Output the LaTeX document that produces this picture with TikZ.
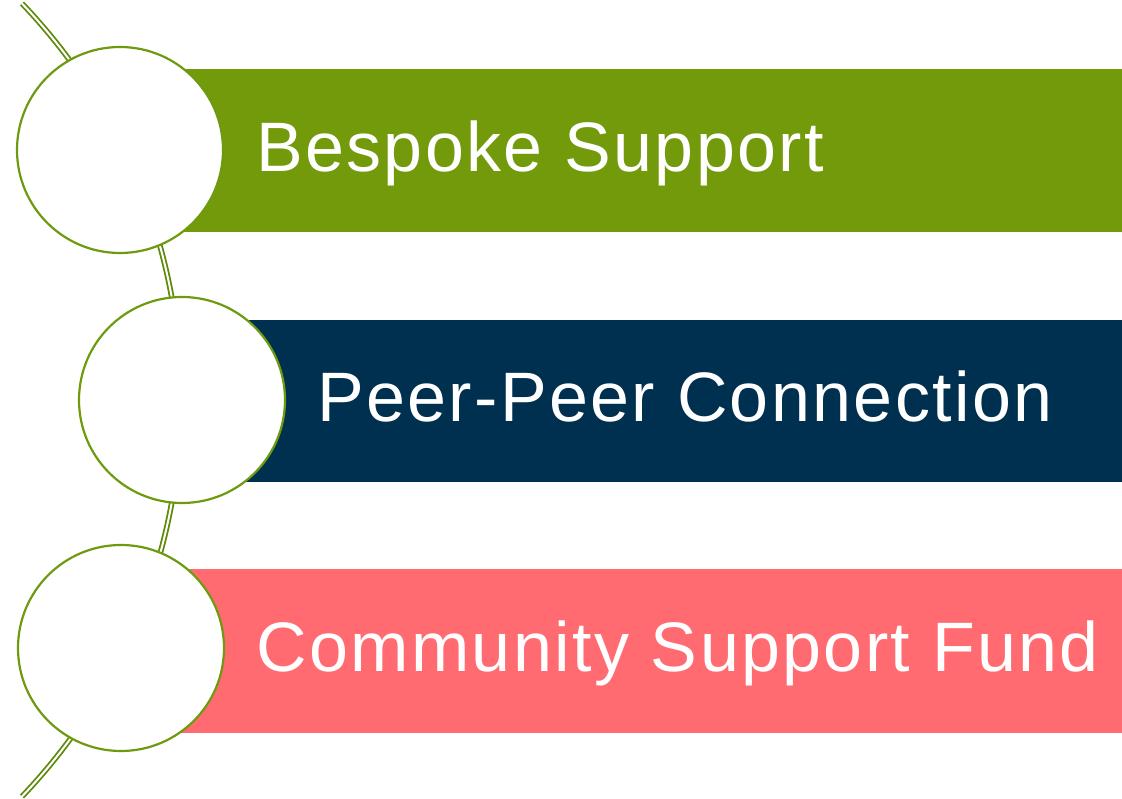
\documentclass[tikz,border=0pt]{standalone}
\usepackage{fontspec}
\setmainfont{Liberation Sans}
\newfontfamily\barfont[LetterSpace=3.4]{Liberation Sans}
\definecolor{bargreen}{RGB}{115,154,10}
\definecolor{barnavy}{RGB}{0,48,80}
\definecolor{barpink}{RGB}{255,107,112}
\definecolor{ringgreen}{RGB}{110,154,16}
\definecolor{linkgreen}{RGB}{94,138,10}
\tikzset{
  bar/.style={inner sep=0pt, outer sep=0pt},
  ring/.style={circle, draw=ringgreen, line width=2.2pt, fill=white, minimum size=206pt, inner sep=0pt},
  label/.style={anchor=base west, text=white, font=\barfont\fontsize{70}{80}\selectfont, inner sep=0pt},
  link/.style={draw=linkgreen, double=white, double distance=2pt, line width=1.8pt}
}
\begin{document}
\begin{tikzpicture}[x=1pt,y=1pt]
\useasboundingbox (0,0) rectangle (1122,798);
% arc link behind circles
\coordinate (arcc) at (-393,398);
\draw[link] ([shift={(-43.7:574)}]arcc) arc[start angle=-43.7, end angle=43.7, radius=574];
% bars
\fill[bargreen] (120,566) rectangle (1122,729);
\fill[barnavy] (182,316) rectangle (1122,478);
\fill[barpink] (120,65) rectangle (1122,229);
% circles
\node[ring] (c1) at (120,648) {};
\node[ring] (c2) at (182,398) {};
\node[ring] (c3) at (121,150) {};
% labels
\node[label] (t1) at (256,626) {Bespoke Support};
\node[label] (t2) at (317,376) {Peer-Peer Connection};
\node[label] (t3) at (256,126) {Community Support Fund};
\end{tikzpicture}
\end{document}
